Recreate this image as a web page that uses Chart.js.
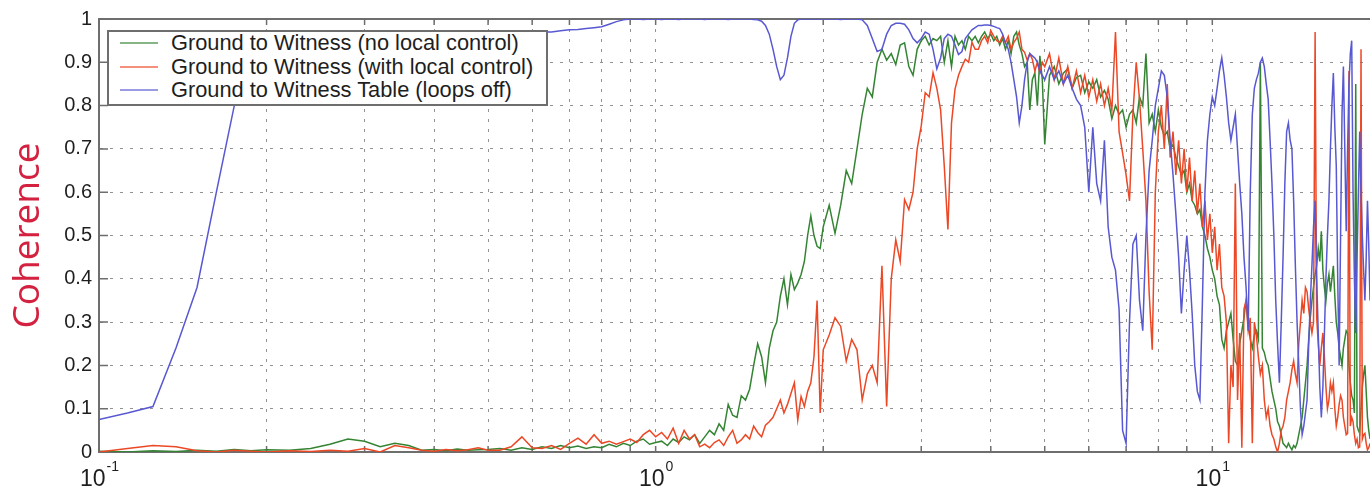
<!DOCTYPE html>
<html>
<head>
<meta charset="utf-8">
<title>Coherence</title>
<script src="https://cdn.jsdelivr.net/npm/chart.js@4.4.1/dist/chart.umd.min.js"></script>
<style>
  html, body { margin: 0; padding: 0; background: #fff; }
  #wrap { position: relative; width: 1370px; height: 491px; overflow: hidden; }
  #plot { position: absolute; left: 0; top: 0; }
  #legend {
    position: absolute; left: 107px; top: 30px; width: 437px; height: 72px;
    border: 2px solid #6e6e6e; background: #fff;
    font-family: 'Liberation Sans', Arial, sans-serif; font-size: 21.8px; color: #1e1e1e;
  }
  .row { position: absolute; left: 0; height: 24px; line-height: 24px; white-space: nowrap; }
  .swatch { position: absolute; left: 11px; top: 11px; width: 38px; height: 2px; opacity: 0.6; }
  .txt { position: absolute; left: 62px; top: 0; }
</style>
</head>
<body>
<div id="wrap">
  <canvas id="plot" width="1370" height="491"></canvas>
  <div id="legend"></div>
</div>
<script>
// Frequency grid (Hz)
const freqHz = [
  0.1,0.1125,0.125,0.1375,0.15,0.1625,0.175,0.1875,0.2,0.22,
  0.24,0.26,0.28,0.3,0.32,0.34,0.36,0.38,0.4,0.42,
  0.44,0.46,0.48,0.5,0.525,0.55,0.575,0.6,0.625,0.65,
  0.675,0.7,0.725,0.75,0.775,0.8,0.825,0.85,0.875,0.9,
  0.925,0.95,0.975,1.0,1.025,1.05,1.075,1.1,1.125,1.15,
  1.175,1.2,1.225,1.25,1.275,1.3,1.325,1.35,1.375,1.4,
  1.425,1.45,1.475,1.5,1.525,1.55,1.575,1.6,1.625,1.65,
  1.675,1.7,1.725,1.75,1.775,1.8,1.825,1.85,1.875,1.9,
  1.925,1.95,1.975,2.0,2.05,2.1,2.15,2.2,2.25,2.3,
  2.35,2.4,2.45,2.5,2.55,2.6,2.65,2.7,2.75,2.8,
  2.85,2.9,2.95,3.0,3.05,3.1,3.15,3.2,3.25,3.3,
  3.35,3.4,3.45,3.5,3.55,3.6,3.65,3.7,3.75,3.8,
  3.85,3.9,3.95,4.0,4.05,4.1,4.15,4.2,4.25,4.3,
  4.35,4.4,4.45,4.5,4.55,4.6,4.65,4.7,4.75,4.8,
  4.85,4.9,4.95,5.0,5.1,5.2,5.3,5.4,5.5,5.6,
  5.7,5.8,5.9,6.0,6.1,6.2,6.3,6.4,6.5,6.6,
  6.7,6.8,6.9,7.0,7.1,7.2,7.3,7.4,7.5,7.6,
  7.7,7.8,7.9,8.0,8.1,8.2,8.3,8.4,8.5,8.6,
  8.7,8.8,8.9,9.0,9.1,9.2,9.3,9.4,9.5,9.6,
  9.7,9.8,9.9,10.0,10.1,10.2,10.3,10.4,10.5,10.6,
  10.7,10.8,10.9,11.0,11.1,11.2,11.3,11.4,11.5,11.6,
  11.7,11.8,11.9,12.0,12.1,12.2,12.3,12.4,12.5,12.6,
  12.7,12.8,12.9,13.0,13.1,13.2,13.3,13.4,13.5,13.6,
  13.7,13.8,13.9,14.0,14.1,14.2,14.3,14.4,14.5,14.6,
  14.7,14.8,14.9,15.0,15.1,15.2,15.3,15.4,15.5,15.6,
  15.7,15.8,15.9,16.0,16.1,16.2,16.3,16.4,16.5,16.6,
  16.7,16.8,16.9,17.0,17.1,17.2,17.3,17.4,17.5,17.6,
  17.7,17.8,17.9,18.0,18.1,18.2,18.3,18.4,18.5,18.6,
  18.7,18.8,18.9,19.0,19.1,19.2
];

// Ground to Witness, no local control
const gwNoLocal = [
  0.002,0.0,0.003,0.001,0.004,0.002,0.006,0.003,0.005,0.004,
  0.008,0.018,0.03,0.025,0.012,0.02,0.015,0.004,0.006,0.003,
  0.007,0.004,0.005,0.006,0.008,0.004,0.01,0.006,0.012,0.008,
  0.015,0.01,0.014,0.008,0.012,0.01,0.018,0.012,0.02,0.015,
  0.025,0.03,0.018,0.022,0.025,0.015,0.03,0.022,0.035,0.028,
  0.04,0.02,0.035,0.05,0.04,0.065,0.05,0.11,0.085,0.08,
  0.13,0.12,0.145,0.2,0.25,0.22,0.16,0.24,0.28,0.3,
  0.36,0.4,0.34,0.41,0.375,0.39,0.41,0.44,0.5,0.545,
  0.5,0.475,0.47,0.52,0.57,0.505,0.57,0.65,0.62,0.7,
  0.78,0.84,0.82,0.9,0.93,0.905,0.92,0.895,0.94,0.945,
  0.89,0.87,0.93,0.95,0.96,0.94,0.955,0.95,0.96,0.9,
  0.95,0.89,0.96,0.94,0.95,0.93,0.96,0.95,0.96,0.945,
  0.96,0.97,0.955,0.965,0.95,0.96,0.94,0.955,0.93,0.95,
  0.92,0.96,0.97,0.94,0.92,0.89,0.9,0.79,0.86,0.876,
  0.8,0.915,0.86,0.71,0.87,0.89,0.85,0.875,0.885,0.84,
  0.865,0.87,0.83,0.855,0.84,0.86,0.82,0.835,0.815,0.77,
  0.8,0.78,0.79,0.75,0.78,0.79,0.76,0.82,0.8,0.92,
  0.76,0.78,0.74,0.79,0.75,0.73,0.74,0.7,0.71,0.68,
  0.66,0.64,0.65,0.6,0.62,0.58,0.57,0.55,0.56,0.52,
  0.5,0.47,0.45,0.42,0.4,0.36,0.34,0.26,0.24,0.28,
  0.3,0.32,0.26,0.21,0.2,0.25,0.28,0.31,0.35,0.3,
  0.26,0.24,0.27,0.28,0.26,0.9,0.24,0.23,0.21,0.2,
  0.17,0.14,0.12,0.1,0.07,0.06,0.04,0.02,0.015,0.01,
  0.02,0.012,0.005,0.015,0.01,0.02,0.04,0.06,0.08,0.12,
  0.16,0.2,0.26,0.31,0.35,0.38,0.41,0.43,0.47,0.44,
  0.51,0.42,0.38,0.35,0.39,0.41,0.37,0.4,0.43,0.36,
  0.3,0.275,0.24,0.22,0.2,0.24,0.26,0.28,0.275,0.2,
  0.16,0.13,0.12,0.09,0.85,0.06,0.05,0.043,0.1,0.15,
  0.18,0.2,0.14,0.08,0.05,0.03
];

// Ground to Witness, with local control
const gwWithLocal = [
  0.0,0.008,0.015,0.012,0.003,0.0,0.004,0.002,0.0,0.003,
  0.001,0.004,0.002,0.008,0.0,0.015,0.01,0.004,0.002,0.006,
  0.003,0.005,0.01,0.004,0.004,0.012,0.035,0.01,0.008,0.015,
  0.006,0.02,0.032,0.018,0.04,0.02,0.025,0.018,0.024,0.03,
  0.022,0.04,0.05,0.035,0.045,0.03,0.055,0.02,0.05,0.03,
  0.04,0.012,0.018,0.01,0.022,0.028,0.015,0.035,0.05,0.02,
  0.028,0.04,0.03,0.06,0.045,0.035,0.062,0.07,0.08,0.1,
  0.12,0.09,0.11,0.135,0.16,0.074,0.128,0.105,0.14,0.16,
  0.22,0.35,0.09,0.236,0.27,0.31,0.29,0.21,0.26,0.236,
  0.12,0.18,0.2,0.16,0.43,0.105,0.4,0.49,0.44,0.583,
  0.56,0.6,0.7,0.753,0.83,0.82,0.876,0.84,0.79,0.66,
  0.514,0.76,0.838,0.87,0.89,0.907,0.9,0.946,0.93,0.93,
  0.95,0.96,0.945,0.973,0.96,0.95,0.946,0.96,0.945,0.96,
  0.93,0.946,0.955,0.97,0.93,0.923,0.905,0.92,0.907,0.88,
  0.9,0.876,0.9,0.89,0.92,0.86,0.91,0.85,0.89,0.84,
  0.88,0.83,0.87,0.82,0.86,0.81,0.85,0.8,0.84,0.79,
  0.97,0.74,0.69,0.64,0.58,0.78,0.9,0.815,0.7,0.58,
  0.37,0.236,0.6,0.74,0.8,0.7,0.85,0.68,0.74,0.64,
  0.72,0.62,0.7,0.6,0.68,0.58,0.65,0.55,0.62,0.52,
  0.58,0.49,0.55,0.46,0.52,0.42,0.48,0.38,0.36,0.3,
  0.02,0.2,0.15,0.62,0.12,0.275,0.01,0.33,0.35,0.28,
  0.31,0.02,0.3,0.27,0.22,0.18,0.2,0.12,0.08,0.1,
  0.06,0.04,0.03,0.012,0.0,0.02,0.05,0.06,0.08,0.12,
  0.14,0.16,0.19,0.21,0.18,0.16,0.25,0.3,0.35,0.32,
  0.38,0.37,0.33,0.3,0.275,0.3,0.97,0.31,0.25,0.2,
  0.24,0.275,0.22,0.15,0.1,0.12,0.16,0.14,0.16,0.1,
  0.06,0.08,0.11,0.13,0.12,0.08,0.06,0.04,0.043,0.88,
  0.06,0.08,0.07,0.04,0.02,0.03,0.01,0.012,0.93,0.03,
  0.04,0.043,0.02,0.005,0.01,0.02
];

// Ground to Witness Table, loops off
const gwTableLoopsOff = [
  0.075,0.09,0.105,0.24,0.38,0.6,0.8,0.9,0.94,0.95,
  0.955,0.96,0.96,0.962,0.965,0.965,0.966,0.966,0.967,0.967,
  0.967,0.968,0.968,0.968,0.968,0.969,0.97,0.97,0.97,0.97,
  0.973,0.975,0.976,0.978,0.98,0.982,0.988,0.994,0.998,1.0,
  1.0,0.999,1.0,1.0,0.999,1.0,1.0,0.999,1.0,1.0,
  1.0,1.0,0.999,1.0,1.0,1.0,1.0,0.999,1.0,1.0,
  1.0,1.0,1.0,0.999,0.998,0.995,0.985,0.965,0.93,0.89,
  0.86,0.87,0.91,0.96,0.99,0.998,1.0,1.0,1.0,1.0,
  1.0,1.0,1.0,1.0,1.0,1.0,0.999,1.0,1.0,1.0,
  0.998,0.985,0.955,0.925,0.93,0.965,0.985,0.99,0.99,0.988,
  0.975,0.955,0.945,0.955,0.97,0.965,0.93,0.885,0.91,0.955,
  0.965,0.96,0.94,0.918,0.925,0.955,0.965,0.975,0.98,0.985,
  0.985,0.986,0.986,0.985,0.983,0.98,0.978,0.965,0.945,0.93,
  0.9,0.86,0.82,0.76,0.8,0.86,0.9,0.92,0.915,0.91,
  0.9,0.88,0.87,0.86,0.89,0.86,0.88,0.85,0.87,0.84,
  0.815,0.8,0.75,0.6,0.75,0.62,0.58,0.72,0.52,0.45,
  0.42,0.33,0.05,0.02,0.3,0.48,0.5,0.35,0.28,0.5,
  0.65,0.72,0.8,0.84,0.88,0.87,0.82,0.72,0.64,0.55,
  0.45,0.32,0.42,0.5,0.42,0.32,0.2,0.14,0.12,0.35,
  0.6,0.72,0.78,0.82,0.8,0.84,0.88,0.91,0.87,0.82,
  0.76,0.72,0.75,0.78,0.7,0.62,0.55,0.45,0.38,0.28,
  0.6,0.78,0.84,0.86,0.875,0.9,0.91,0.89,0.85,0.815,
  0.72,0.62,0.5,0.35,0.25,0.16,0.3,0.45,0.62,0.74,
  0.76,0.72,0.7,0.58,0.43,0.3,0.2,0.1,0.04,0.06,
  0.09,0.12,0.25,0.35,0.43,0.52,0.58,0.4,0.275,0.15,
  0.08,0.15,0.275,0.4,0.5,0.58,0.7,0.8,0.875,0.75,
  0.66,0.4,0.2,0.5,0.78,0.89,0.7,0.51,0.7,0.85,
  0.92,0.95,0.6,0.4,0.275,0.45,0.6,0.74,0.6,0.5,
  0.42,0.35,0.45,0.58,0.48,0.35
];

const seriesNames = [
  'Ground to Witness (no local control)',
  'Ground to Witness (with local control)',
  'Ground to Witness Table (loops off)'
];
const seriesColors = ['rgb(52,132,52)', 'rgb(236,72,38)', 'rgb(88,88,210)'];

// Axis ticks: gridlines at every tick, decade labels written as base + exponent
const xTickValues = [0.1,0.2,0.3,0.4,0.5,0.6,0.7,0.8,0.9,1,2,3,4,5,6,7,8,9,10];
const xTickBases = ['10','','','','','','','','','10','','','','','','','','','10'];
const xTickExponents = ['-1','','','','','','','','','0','','','','','','','','','1'];
const yTickValues = [0,0.1,0.2,0.3,0.4,0.5,0.6,0.7,0.8,0.9,1];
const yTickLabels = ['0','0.1','0.2','0.3','0.4','0.5','0.6','0.7','0.8','0.9','1'];

function toPoints(values) {
  const n = Math.min(freqHz.length, values.length);
  const pts = [];
  for (let i = 0; i < n; i++) pts.push({ x: freqHz[i], y: values[i] });
  return pts;
}

const FONT = "'Liberation Sans', Arial, sans-serif";

// Box top edge and inward tick marks
const axesFrame = {
  id: 'axesFrame',
  beforeDatasetsDraw(chart) {
    const { ctx, chartArea: a, scales: { x, y } } = chart;
    ctx.save();
    ctx.strokeStyle = '#6e6e6e';
    ctx.lineWidth = 2;
    ctx.beginPath();
    ctx.moveTo(a.left - 1, a.top);
    ctx.lineTo(a.right, a.top);
    ctx.stroke();
    ctx.lineWidth = 1.5;
    ctx.beginPath();
    x.ticks.forEach(t => {
      const px = x.getPixelForValue(t.value);
      ctx.moveTo(px, a.bottom); ctx.lineTo(px, a.bottom - 6);
      ctx.moveTo(px, a.top); ctx.lineTo(px, a.top + 6);
    });
    y.ticks.forEach(t => {
      const py = y.getPixelForValue(t.value);
      ctx.moveTo(a.left, py); ctx.lineTo(a.left + 9, py);
    });
    ctx.stroke();
    ctx.restore();
  },
  // decade labels "10" with a raised exponent, centred on their ticks
  afterDraw(chart) {
    const { ctx, chartArea: a, scales: { x } } = chart;
    ctx.save();
    ctx.fillStyle = '#1e1e1e';
    ctx.textBaseline = 'alphabetic';
    ctx.textAlign = 'left';
    xTickValues.forEach((v, i) => {
      if (!xTickBases[i]) return;
      const px = x.getPixelForValue(v);
      ctx.font = '23px ' + FONT;
      const wb = ctx.measureText(xTickBases[i]).width;
      ctx.font = '14px ' + FONT;
      const we = ctx.measureText(xTickExponents[i]).width;
      const x0 = px - (wb + we) / 2;
      ctx.font = '23px ' + FONT;
      ctx.fillText(xTickBases[i], x0, a.bottom + 34);
      ctx.font = '14px ' + FONT;
      ctx.fillText(xTickExponents[i], x0 + wb + 1, a.bottom + 19);
    });
    ctx.restore();
  }
};

Chart.defaults.font.family = FONT;

const gridOpts = { color: 'rgba(100,100,100,0.7)', lineWidth: 1, drawTicks: false };
const borderOpts = { color: '#6e6e6e', width: 2, dash: [3, 7] };

const chart = new Chart(document.getElementById('plot'), {
  type: 'line',
  data: {
    datasets: [
      { label: seriesNames[2], data: toPoints(gwTableLoopsOff), borderColor: seriesColors[2], order: 1 },
      { label: seriesNames[1], data: toPoints(gwWithLocal), borderColor: seriesColors[1], order: 2 },
      { label: seriesNames[0], data: toPoints(gwNoLocal), borderColor: seriesColors[0], order: 3 }
    ]
  },
  options: {
    responsive: false,
    animation: false,
    devicePixelRatio: 1,
    layout: { padding: { top: 18, right: 0, bottom: 0, left: 0 } },
    elements: {
      point: { radius: 0, hoverRadius: 0 },
      line: { tension: 0, borderWidth: 1.5, fill: false }
    },
    plugins: { legend: { display: false }, tooltip: { enabled: false } },
    scales: {
      x: {
        type: 'logarithmic',
        min: 0.1,
        max: 19.2,
        afterBuildTicks: s => { s.ticks = xTickValues.map(v => ({ value: v })); },
        afterFit: s => { s.height = 39; },
        ticks: { display: false, autoSkip: false, maxRotation: 0, minRotation: 0 },
        grid: gridOpts,
        border: borderOpts
      },
      y: {
        min: 0,
        max: 1,
        afterBuildTicks: s => { s.ticks = yTickValues.map(v => ({ value: v })); },
        afterFit: s => { s.width = 99; },
        ticks: {
          padding: 7, color: '#1e1e1e', font: { size: 20 },
          callback: (v, i) => yTickLabels[i]
        },
        grid: gridOpts,
        border: borderOpts,
        title: {
          display: true, text: 'Coherence', color: '#d3213f',
          font: { family: "'Open Sans', sans-serif", size: 37 },
          padding: { top: 6, bottom: 0 }
        }
      }
    }
  },
  plugins: [axesFrame]
});

// Boxed legend inside the axes
const legendEl = document.getElementById('legend');
seriesNames.forEach((name, i) => {
  const row = document.createElement('div');
  row.className = 'row';
  row.style.top = (-1 + i * 23.5) + 'px';
  const sw = document.createElement('span');
  sw.className = 'swatch';
  sw.style.background = seriesColors[i];
  const tx = document.createElement('span');
  tx.className = 'txt';
  tx.textContent = name;
  row.appendChild(sw);
  row.appendChild(tx);
  legendEl.appendChild(row);
});
</script>
</body>
</html>
